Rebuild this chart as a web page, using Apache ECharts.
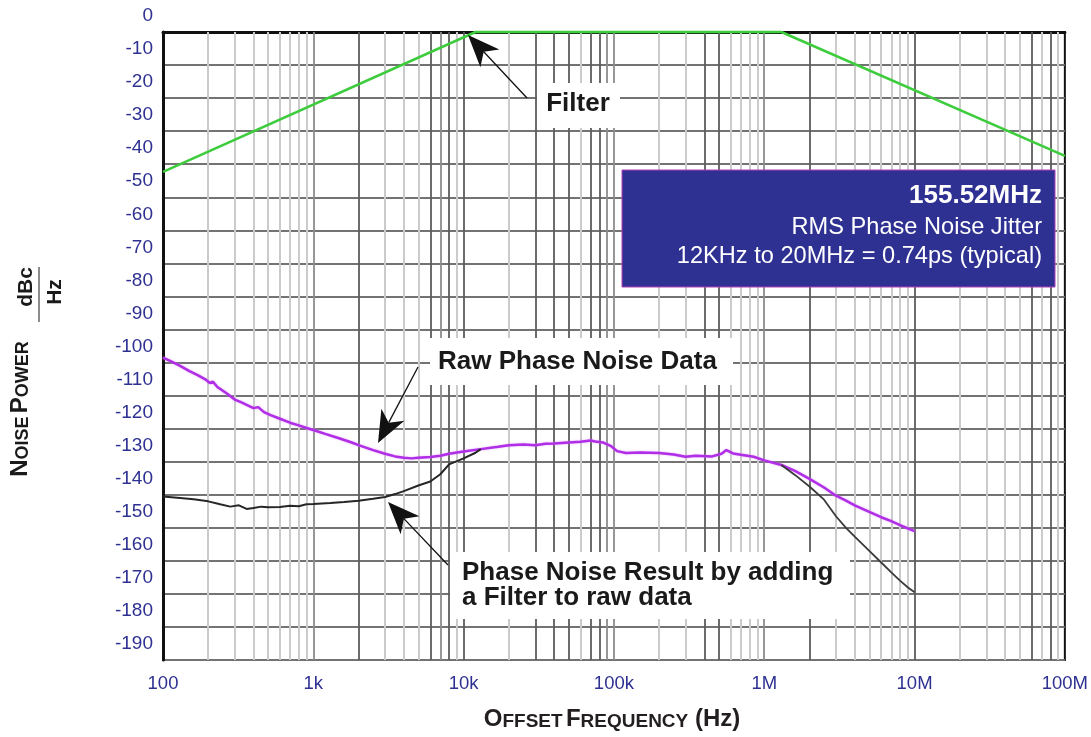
<!DOCTYPE html>
<html><head><meta charset="utf-8">
<script src="https://cdn.jsdelivr.net/npm/echarts@6/dist/echarts.min.js"></script>
<style>html,body{margin:0;padding:0;background:#fff}#c{width:1091px;height:737px}</style>
</head><body><div id="c"></div>
<script>
const xTickLabels = ['100','1k','10k','100k','1M','10M','100M'];
const yTickLabels = ['0','-10','-20','-30','-40','-50','-60','-70','-80','-90','-100','-110','-120','-130','-140','-150','-160','-170','-180','-190'];

const rawPhaseNoise = [[100,-98.5],[115,-99.8],[130,-101],[150,-102.6],[170,-103.8],[190,-105],[205,-106.2],[215,-105.8],[230,-107.4],[266,-109.4],[300,-111.2],[330,-112],[360,-112.8],[400,-113.8],[430,-113.5],[470,-115],[520,-115.9],[600,-117],[700,-118.2],[800,-119],[900,-119.8],[1000,-120.4],[1200,-121.6],[1500,-123],[1800,-124.2],[2000,-125],[2500,-126.5],[3000,-127.6],[3500,-128.4],[4000,-128.8],[4500,-129],[5000,-128.8],[6000,-128.6],[7000,-128.2],[8000,-127.6],[10000,-126.9],[13000,-126.2],[17000,-125.5],[20000,-125],[25000,-124.8],[30000,-125],[35000,-124.6],[40000,-124.5],[50000,-124.2],[60000,-124],[70000,-123.6],[75000,-123.9],[85000,-124.2],[95000,-125.2],[105000,-126.8],[120000,-127.4],[150000,-127.2],[200000,-127.4],[250000,-127.8],[300000,-128.5],[350000,-128.2],[450000,-128.4],[520000,-127.6],[560000,-126.5],[620000,-127.5],[700000,-127.9],[850000,-128.5],[1000000,-129.6],[1300000,-131],[1600000,-132.8],[2000000,-135.2],[2500000,-137.8],[3000000,-140.3],[3500000,-141.8],[4000000,-143.2],[5000000,-145.2],[6000000,-146.8],[7000000,-148],[8000000,-149.2],[9000000,-150.2],[10000000,-151]];

const filteredLow = [[100,-140.5],[130,-141],[160,-141.4],[200,-142],[240,-142.9],[280,-143.6],[320,-143.2],[360,-144.3],[400,-144],[450,-143.6],[500,-143.8],[600,-143.7],[700,-143.3],[800,-143.5],[900,-142.9],[1000,-142.8],[1300,-142.5],[1600,-142.2],[2000,-141.8],[2500,-141.2],[3000,-140.7],[3500,-139.8],[4000,-138.9],[5000,-137.2],[6000,-136],[7000,-133.8],[8000,-130.8],[10000,-129],[12000,-127.3],[13000,-126.2]];

const filteredHigh = [[1300000,-131],[1600000,-134],[2000000,-137.5],[2500000,-141.5],[3000000,-146.5],[3500000,-150],[4000000,-152.7],[5000000,-157],[6000000,-160.5],[7000000,-163.5],[8000000,-166],[9000000,-168],[10000000,-169.5]];

const filterResponse = [[100,-42.3],[12000,0],[1300000,0],[100000000,-37.5]];

const decades = [100,1000,10000,100000,1000000,10000000];
const darkGridFreqs = [2000,6000,8000,10000,30000,40000,50000,70000,80000,400000,500000,2000000,10000000,60000000,80000000];
const mediumGridFreqs = [1000,7000,90000,100000,1000000];

const FONT = '"Liberation Sans", Arial, Helvetica, sans-serif';
const NAVY = '#2e3192';

const vLines = [];
decades.forEach(d => {
  for (let k = 1; k <= 9; k++) {
    const f = d * k;
    if (f === 100) continue;
    let style = {color:'#cbcbcb', width:2, type:'solid'};
    if (darkGridFreqs.includes(f)) style = {color:'#5c5c5c', width:1.8, type:'solid'};
    else if (mediumGridFreqs.includes(f)) style = {color:'#8c8c8c', width:1.8, type:'solid'};
    vLines.push({xAxis: f, lineStyle: style});
  }
});

function arrow(tx, ty, sx, sy) {
  const dx = sx - tx, dy = sy - ty, L = Math.hypot(dx, dy);
  const ux = dx / L, uy = dy / L, px = -uy, py = ux;
  const hl = 32, hw = 13, notch = 23;
  const bx = tx + ux * hl, by = ty + uy * hl;
  const nx = tx + ux * notch, ny = ty + uy * notch;
  return [
    {type:'line', z:120, shape:{x1:nx, y1:ny, x2:sx, y2:sy}, style:{stroke:'#111', lineWidth:1.3}},
    {type:'polygon', z:121, shape:{points:[[tx,ty],[bx+px*hw,by+py*hw],[nx,ny],[bx-px*hw,by-py*hw]]}, style:{fill:'#111'}}
  ];
}

const boldLbl = 'bold 26px ' + FONT;
const graphics = [
  {type:'rect', z:110, shape:{x:537,y:83,width:83,height:45}, style:{fill:'#fff'}},
  {type:'text', z:111, style:{text:'Filter', x:578, y:104, font:boldLbl, fill:'#1a1a1a', align:'center', verticalAlign:'middle'}},
  {type:'rect', z:110, shape:{x:430,y:338,width:303,height:47}, style:{fill:'#fff'}},
  {type:'text', z:111, style:{text:'Raw Phase Noise Data', x:438, y:362, font:boldLbl, fill:'#1a1a1a', align:'left', verticalAlign:'middle'}},
  {type:'rect', z:110, shape:{x:450,y:552,width:400,height:67}, style:{fill:'#fff'}},
  {type:'text', z:111, style:{text:'Phase Noise Result by adding', x:462, y:573, font:boldLbl, fill:'#1a1a1a', align:'left', verticalAlign:'middle'}},
  {type:'text', z:111, style:{text:'a Filter to raw data', x:462, y:598, font:boldLbl, fill:'#1a1a1a', align:'left', verticalAlign:'middle'}},
  ...arrow(468, 35, 527, 98),
  ...arrow(378, 443, 418, 367),
  ...arrow(388, 502, 448, 565),
  {type:'rect', z:110, shape:{x:622,y:170,width:433,height:117}, style:{fill:NAVY, stroke:'#b040b8', lineWidth:1}},
  {type:'text', z:111, style:{text:'155.52MHz', x:1042, y:196, font:'bold 26px ' + FONT, fill:'#fff', align:'right', verticalAlign:'middle'}},
  {type:'text', z:111, style:{text:'RMS Phase Noise Jitter', x:1042, y:227, font:'23.6px ' + FONT, fill:'#fff', align:'right', verticalAlign:'middle'}},
  {type:'text', z:111, style:{text:'12KHz to 20MHz = 0.74ps (typical)', x:1042, y:256, font:'23.6px ' + FONT, fill:'#fff', align:'right', verticalAlign:'middle'}},
  // y-axis title
  {type:'text', z:111, x:20, y:409, rotation:Math.PI/2, style:{
    text:'{b|N}{s|OISE} {b|P}{s|OWER}', align:'center', verticalAlign:'middle',
    rich:{b:{font:'bold 24px ' + FONT, fill:'#1a1a1a', verticalAlign:'bottom'}, s:{font:'bold 18px ' + FONT, fill:'#1a1a1a', verticalAlign:'bottom'}}}},
  {type:'text', z:111, x:26, y:287, rotation:Math.PI/2, style:{text:'dBc', font:'bold 21px ' + FONT, fill:'#1a1a1a', align:'center', verticalAlign:'middle'}},
  {type:'line', z:111, shape:{x1:39, y1:267, x2:39, y2:322}, style:{stroke:'#666', lineWidth:1.5}},
  {type:'text', z:111, x:55, y:292, rotation:Math.PI/2, style:{text:'Hz', font:'bold 21px ' + FONT, fill:'#1a1a1a', align:'center', verticalAlign:'middle'}},
  // x-axis title
  {type:'text', z:111, x:612, y:719, style:{
    text:'{b|O}{s|FFSET} {b|F}{s|REQUENCY}  {b|(Hz)}', align:'center', verticalAlign:'middle',
    rich:{b:{font:'bold 24px ' + FONT, fill:'#231f20', verticalAlign:'bottom'}, s:{font:'bold 19px ' + FONT, fill:'#231f20', verticalAlign:'bottom'}}}}
];

const chart = echarts.init(document.getElementById('c'), null, {renderer:'canvas'});
chart.setOption({
  animation: false,
  backgroundColor: '#fff',
  grid: {left:163, right:25, top:31, bottom:77, show:true, borderColor:'#111', borderWidth:2, backgroundColor:'transparent'},
  xAxis: {
    type:'log', logBase:10, min:100, max:100000000, splitNumber:6,
    axisLine:{show:true, lineStyle:{color:'#111', width:3}},
    axisTick:{show:false}, splitLine:{show:false}, minorTick:{show:false}, minorSplitLine:{show:false},
    axisLabel:{color:NAVY, fontSize:18.5, fontFamily:FONT, margin:14,
      formatter: v => { const i = Math.round(Math.log10(v)) - 2; return xTickLabels[i] !== undefined ? xTickLabels[i] : ''; }}
  },
  yAxis: {
    type:'value', min:-190, max:0, interval:10,
    axisLine:{show:true, lineStyle:{color:'#111', width:3}},
    axisTick:{show:false},
    splitLine:{show:true, lineStyle:{color:'#737373', width:1.8}},
    axisLabel:{color:NAVY, fontSize:19, fontFamily:FONT, margin:10, verticalAlign:'bottom', lineHeight:32,
      formatter: v => { const i = Math.round(-v / 10); return yTickLabels[i] !== undefined ? yTickLabels[i] : ''; }}
  },
  series: [
    {name:'grid', type:'line', data:[], z:1, silent:true,
      markLine:{silent:true, z:1, symbol:['none','none'], label:{show:false}, animation:false, data:vLines}},
    {name:'Raw Phase Noise Data', type:'line', data:rawPhaseNoise, showSymbol:false, z:3,
      lineStyle:{color:'#b02ee6', width:2.5, shadowColor:'rgba(220,130,255,0.7)', shadowBlur:2}},
    {name:'Result low', type:'line', data:filteredLow, showSymbol:false, z:4, lineStyle:{color:'#262626', width:2}},
    {name:'Result high', type:'line', data:filteredHigh, showSymbol:false, z:4, lineStyle:{color:'#3a3a3a', width:1.8}},
    {name:'Filter', type:'line', data:filterResponse, showSymbol:false, z:5, clip:false,
      lineStyle:{color:'#3ccc3c', width:2.5}}
  ],
  graphic: graphics
});
</script>
</body></html>
